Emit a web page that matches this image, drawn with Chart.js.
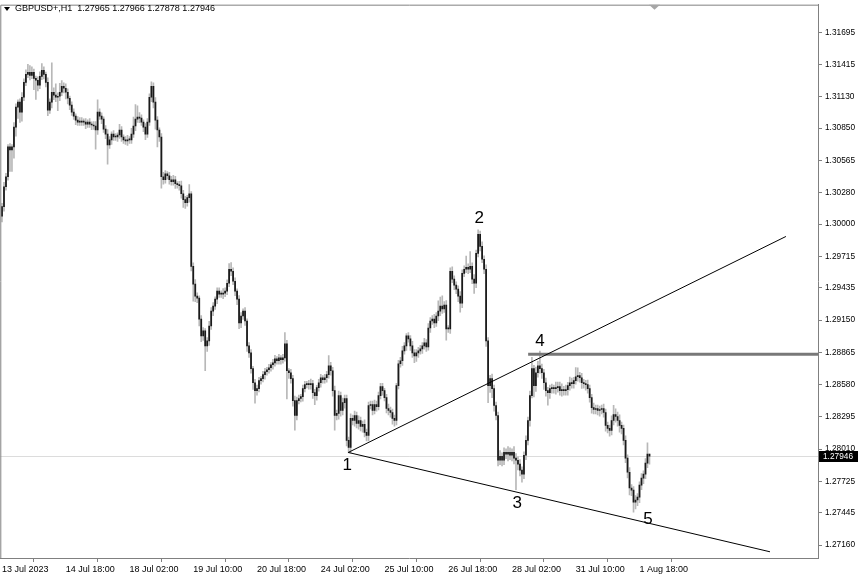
<!DOCTYPE html>
<html>
<head>
<meta charset="utf-8">
<script src="https://cdn.jsdelivr.net/npm/chart.js@4.4.1/dist/chart.umd.min.js"></script>
<style>
  html, body { margin: 0; padding: 0; background: #ffffff; }
  #wrap { width: 865px; height: 579px; position: relative; }
  canvas { display: block; }
</style>
</head>
<body>
<div id="wrap"><canvas id="c" width="865" height="579"></canvas></div>
<script>
// ---------------- DATA ----------------
const symbolTitle = 'GBPUSD+,H1  1.27965 1.27966 1.27878 1.27946';
const firstOpen = 1.30070;

// hourly closes, one per bar (bar 0 = 13 Jul 2023 10:00)
const closes = [
1.30155,1.30331,1.30419,1.30683,1.30657,1.30683,1.30859,1.31035,1.31079,1.30991,
1.31123,1.31255,1.31325,1.31343,1.31317,1.31343,1.31290,1.31273,1.31229,1.31308,
1.31361,1.31325,1.31255,1.31009,1.31079,1.31167,1.31141,1.31123,1.31132,1.31167,
1.31220,1.31202,1.31167,1.31114,1.31053,1.30991,1.30956,1.30921,1.30903,1.30903,
1.30912,1.30903,1.30885,1.30903,1.30885,1.30877,1.30868,1.30833,1.30991,1.30956,
1.30929,1.30841,1.30797,1.30701,1.30745,1.30797,1.30771,1.30771,1.30789,1.30833,
1.30771,1.30745,1.30736,1.30745,1.30745,1.30797,1.30868,1.30929,1.30947,1.30938,
1.30903,1.30859,1.30797,1.30903,1.31123,1.31220,1.31079,1.30921,1.30833,1.30771,
1.30419,1.30393,1.30445,1.30428,1.30393,1.30375,1.30393,1.30357,1.30349,1.30340,
1.30269,1.30217,1.30190,1.30234,1.30269,1.29627,1.29469,1.29363,1.29345,1.29160,
1.29011,1.29055,1.28923,1.28967,1.29099,1.29231,1.29275,1.29337,1.29407,1.29381,
1.29381,1.29389,1.29407,1.29477,1.29601,1.29583,1.29495,1.29407,1.29337,1.29125,
1.29187,1.29231,1.29143,1.28923,1.28861,
1.28721,1.28597,1.28527,1.28545,1.28615,1.28633,1.28668,1.28694,1.28712,1.28729,
1.28756,1.28773,1.28809,1.28791,1.28817,1.28800,1.28817,1.28941,1.28703,1.28685,
1.28633,1.28439,1.28307,1.28439,1.28457,1.28474,1.28545,1.28580,1.28589,1.28580,
1.28589,1.28509,1.28483,1.28553,1.28597,1.28641,1.28624,1.28641,1.28668,1.28747,
1.28703,1.28527,1.28307,1.28325,1.28483,1.28351,1.28421,1.28457,
1.28087,1.28025,1.28281,1.28263,1.28307,1.28237,1.28263,1.28210,1.28228,1.28157,
1.28131,1.28395,1.28404,1.28351,1.28404,1.28386,1.28483,1.28562,1.28527,1.28465,
1.28369,1.28351,1.28333,1.28281,1.28263,1.28571,1.28765,1.28791,1.28879,1.28923,
1.29011,1.28985,1.28923,1.28861,1.28835,1.28861,1.28879,1.28897,1.28923,1.28949,
1.28914,1.29081,1.29143,1.29161,1.29125,1.29187,1.29231,1.29275,1.29249,1.29284,
1.29073,1.29073,
1.29583,1.29513,1.29460,1.29425,1.29363,1.29301,1.29565,1.29601,1.29618,1.29601,
1.29627,1.29513,1.29477,1.29741,1.29909,1.29803,1.29689,1.29601,1.28967,1.28571,
1.28633,1.28545,1.28395,1.28307,1.27911,1.27946,1.27911,1.27981,1.27964,1.27981,
1.27955,1.27981,1.27929,1.27911,1.27876,1.27823,1.27788,1.27955,1.28087,1.28263,
1.28483,1.28721,1.28571,1.28685,1.28747,1.28721,1.28685,1.28597,1.28527,1.28509,
1.28545,1.28545,1.28545,1.28553,1.28562,1.28527,1.28536,1.28527,1.28536,1.28571,
1.28597,1.28589,1.28615,1.28650,1.28659,1.28641,1.28597,1.28589,1.28580,1.28545,
1.28465,1.28377,1.28360,1.28369,1.28351,1.28360,1.28369,1.28333,1.28219,1.28193,
1.28175,1.28263,1.28316,1.28298,1.28263,1.28219,1.28193,1.28087,1.27929,1.27805,
1.27665,1.27647,1.27541,1.27559,1.27585,1.27691,1.27753,1.27788,1.27885,1.27965,
1.27946
];

// upper shadow above the body, in pips
const upWick = [
3,4,3,2,3,2,4,3,2,3, 4,3,4,7,6,5,3,2,3,4, 6,3,2,4,3,26,4,10,3,8,
5,3,4,3,2,3,3,2,3,4, 3,2,3,2,3,2,3,4,11,3, 3,2,3,4,3,2,3,3,2,5,
3,2,3,4,3,5,8,13,10,4, 3,2,3,3,3,4,3,4,3,2, 3,4,3,2,3,3,4,3,2,3,
4,3,3,2,8,2,3,4,3,2, 3,3,2,3,4,3,3,2,3,3, 3,4,3,3,5,6,3,3,2,3,
3,2,3,2,3,3,2,3,3,3, 2,3,3,2,3,2,3,3,2,3, 2,3,10,3,2,3,3,4,3,3,
2,3,3,2,3,4,3,3,2,3, 3,2,3,3,9,3,3,4,3,4, 3,4,3,3,3,4,3,4,3,4,
3,3,4,3,3,3,3,4,3,3, 3,3,2,3,4,3,3,3,2,3, 3,4,3,2,3,3,4,3,3,3,
3,3,4,3,4,3,3,4,3,9, 8,9,3,4,3,3,4,3,3,3, 4,3,3,10,3,13,3,4,3,4,
3,4,3,4,3,3,4,3,3,3, 5,3,4,3,5,4,3,5,4,3, 4,3,3,4,3,4,10,3,5,4,
13,4,3,4,3,3,4,3,5,4, 4,5,3,4,3,5,4,3,8,7, 3,4,3,3,4,3,3,4,3,3,
3,3,4,3,3,3,4,8,5,4, 5,3,3,4,3,4,3,3,4,3, 3,4,3,4,10,0
];

// lower shadow below the body, in pips
const downWick = [
5,4,3,3,19,19,10,8,10,9, 8,3,3,3,4,3,10,17,5,3, 3,4,4,5,3,5,4,4,12,4,
3,4,6,5,4,3,3,4,3,3, 3,3,4,3,3,4,3,17,4,3, 4,3,4,17,3,4,3,3,4,3,
4,3,3,4,3,3,3,4,3,4, 3,4,5,3,3,4,5,8,15,4, 10,4,3,3,4,3,3,4,3,4,
4,7,5,3,4,4,15,5,4,6, 5,4,22,5,4,3,4,3,4,3, 3,4,3,3,3,4,3,4,5,5,
4,3,4,5,4,4,6,11,4,3, 3,3,4,3,3,3,4,3,3,3, 4,3,3,25,5,4,5,13,4,3,
3,4,3,3,4,4,5,8,4,3, 4,3,3,4,3,4,5,13,4,5, 5,4,5,5,5,5,4,5,4,5,
4,5,4,5,5,3,4,3,4,3, 3,4,3,4,4,4,5,5,4,3, 3,4,3,4,3,4,4,6,5,4,
3,4,3,4,3,4,3,4,3,4, 4,4,3,10,3,4,3,4,4,5, 8,4,3,3,4,3,4,9,4,3,
4,3,4,5,15,6,8,5,4,5, 4,5,4,4,6,4,5,5,26,5, 5,7,4,4,4,5,2,10,5,4,
4,5,6,5,11,5,4,4,5,4, 4,5,4,4,5,4,4,4,3,4, 4,5,4,5,4,4,5,4,4,4,
5,4,4,5,4,5,4,4,5,5, 6,5,4,4,5,6,5,9,6,5, 5,4,5,4,4,7
];

// time axis: bar numbers of the labels and the labels
const xTickBars = [0, 32, 64, 96, 128, 160, 192, 224, 256, 288, 320];
const xTickLabels = ['13 Jul 2023','14 Jul 18:00','18 Jul 02:00','19 Jul 10:00','20 Jul 18:00',
  '24 Jul 02:00','25 Jul 10:00','26 Jul 18:00','28 Jul 02:00','31 Jul 10:00','1 Aug 18:00'];

// price axis labels
const yTicks = [1.31695,1.31415,1.31130,1.30850,1.30565,1.30280,1.30000,1.29715,1.29435,
  1.29150,1.28865,1.28580,1.28295,1.28010,1.27725,1.27445,1.27160];

// drawn objects (bar number, price)
const trendUpper = [{x: 173.8, y: 1.27980}, {x: 393.5, y: 1.29891}];
const trendLower = [{x: 173.8, y: 1.27980}, {x: 385.5, y: 1.27101}];
const levelLine  = [{x: 264.1, y: 1.28848}, {x: 409.6, y: 1.28848}];
const waveText = ['1', '2', '3', '4', '5'];
const waveBar  = [173.3, 239.5, 258.6, 270.1, 324.3];
const wavePrice = [1.27867, 1.30049, 1.27533, 1.28967, 1.27392];

// ---------------- BUILD ----------------
const PIP = 0.0001;
const opens = closes.map((c, i) => i === 0 ? firstOpen : closes[i - 1]);
const highs = closes.map((c, i) => Math.max(opens[i], c) + upWick[i] * PIP);
const lows  = closes.map((c, i) => Math.min(opens[i], c) - downWick[i] * PIP);
const lastClose = closes[closes.length - 1];

const X_MIN = -0.853, X_MAX = 409.6;
const Y_MIN = 1.27046, Y_MAX = 1.31942;
const FONT = "'Liberation Sans', Arial, sans-serif";

const decorPlugin = {
  id: 'decor',
  beforeDatasetsDraw(chart) {
    const {ctx, chartArea: a, scales: {y}} = chart;
    const py = Math.round(y.getPixelForValue(lastClose)) + 0.5;
    ctx.save();
    ctx.strokeStyle = '#dcdcdc';
    ctx.lineWidth = 1;
    ctx.beginPath(); ctx.moveTo(a.left, py); ctx.lineTo(a.right, py); ctx.stroke();
    ctx.restore();
  },
  afterDraw(chart) {
    const {ctx, chartArea: a, scales: {x, y}} = chart;
    ctx.save();
    // frame (top & left)
    ctx.strokeStyle = '#808080';
    ctx.lineWidth = 1;
    ctx.beginPath();
    ctx.moveTo(a.left + 0.5, a.bottom); ctx.lineTo(a.left + 0.5, a.top + 0.5); ctx.lineTo(a.right, a.top + 0.5);
    ctx.stroke();
    // wave labels
    ctx.fillStyle = '#000';
    ctx.font = '17px ' + FONT;
    ctx.textAlign = 'center';
    ctx.textBaseline = 'middle';
    waveText.forEach((t, i) => {
      ctx.fillText(t, x.getPixelForValue(waveBar[i]), y.getPixelForValue(wavePrice[i]));
    });
    // title
    ctx.font = '9px ' + FONT;
    ctx.textAlign = 'left';
    ctx.textBaseline = 'middle';
    ctx.fillText(symbolTitle, 15, 9);
    ctx.beginPath();
    ctx.moveTo(4, 7); ctx.lineTo(10, 7); ctx.lineTo(7, 11); ctx.closePath(); ctx.fill();
    // shift marker at top
    ctx.fillStyle = '#a6a6a6';
    ctx.beginPath();
    ctx.moveTo(649, a.top); ctx.lineTo(660, a.top); ctx.lineTo(654.5, a.top + 5); ctx.closePath(); ctx.fill();
    // bid price label
    const py = y.getPixelForValue(lastClose);
    ctx.fillStyle = '#000';
    ctx.fillRect(a.right + 1, Math.round(py) - 5, 39, 11);
    ctx.fillStyle = '#fff';
    ctx.font = '8.3px ' + FONT;
    ctx.textBaseline = 'middle';
    ctx.fillText(lastClose.toFixed(5), a.right + 5, Math.round(py) + 0.5);
    ctx.restore();
  }
};

new Chart(document.getElementById('c'), {
  type: 'bar',
  data: {
    datasets: [
      {
        type: 'line', data: trendUpper, borderColor: '#000', borderWidth: 1,
        pointRadius: 0, order: 1
      },
      {
        type: 'line', data: trendLower, borderColor: '#000', borderWidth: 1,
        pointRadius: 0, order: 1
      },
      {
        type: 'line', data: levelLine, borderColor: '#787878', borderWidth: 3,
        pointRadius: 0, order: 1
      },
      {
        type: 'bar',
        data: closes.map((c, i) => ({x: i, y: [lows[i], highs[i]]})),
        backgroundColor: '#b8b8b8', barThickness: 1, grouped: false, order: 3
      },
      {
        type: 'bar',
        data: closes.map((c, i) => ({x: i, y: [opens[i], c]})),
        backgroundColor: '#1a1a1a', barThickness: 1.1, minBarLength: 1, grouped: false, order: 2
      }
    ]
  },
  options: {
    responsive: false,
    devicePixelRatio: 1,
    animation: false,
    events: [],
    layout: { padding: { top: 2, left: 0, right: 0, bottom: 0 } },
    plugins: { legend: { display: false }, tooltip: { enabled: false } },
    scales: {
      x: {
        type: 'linear', min: X_MIN, max: X_MAX, offset: false,
        afterBuildTicks: s => { s.ticks = xTickBars.map(v => ({value: v})); },
        afterFit: s => { s.height = 21; },
        grid: { drawOnChartArea: false, drawTicks: true, tickLength: 4, color: '#808080' },
        border: { display: true, color: '#808080' },
        ticks: {
          autoSkip: false, maxRotation: 0, align: 'start', padding: 2,
          color: '#000', font: { family: FONT, size: 9 },
          callback: (v, i) => xTickLabels[i]
        }
      },
      y: {
        type: 'linear', position: 'right', min: Y_MIN, max: Y_MAX,
        afterBuildTicks: s => { s.ticks = yTicks.map(v => ({value: v})); },
        afterFit: s => { s.width = 47; },
        grid: { drawOnChartArea: false, drawTicks: true, tickLength: 4, color: '#808080' },
        border: { display: true, color: '#808080' },
        ticks: {
          autoSkip: false, padding: 3, color: '#000', font: { family: FONT, size: 8.3, lineHeight: 0.4 },
          callback: v => Number(v).toFixed(5)
        }
      }
    }
  },
  plugins: [decorPlugin]
});
</script>
</body>
</html>
